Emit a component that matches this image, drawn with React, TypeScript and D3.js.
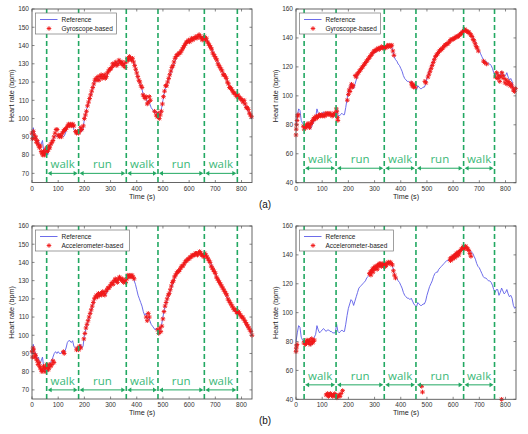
import React from 'react';
import * as d3 from 'd3';

const TIME_STEP = 5;
const X_MAX = 840;
const X_TICKS = [0, 100, 200, 300, 400, 500, 600, 700, 800];
const Y_TICKS_A = [70, 80, 90, 100, 110, 120, 130, 140, 150, 160];
const Y_TICKS_B = [40, 60, 80, 100, 120, 140, 160];
const ACTIVITIES = ['walk', 'run', 'walk', 'run', 'walk'];
const BOUNDS_A = [56, 178, 360, 481, 658, 784];
const BOUNDS_B = [31, 153, 337, 458, 640, 758];

// Reference heart rate, subject A (left panels), one value every 5 s from 0 to 840 s
const REF_A = [
  90, 95, 91, 90, 87, 88, 84, 86, 88, 82,
  80, 84, 80, 83, 85, 86, 88, 90, 91, 90,
  91, 90, 90, 91, 90, 91, 93, 96, 97, 97,
  96, 97, 94, 93, 93, 92, 94, 95, 93, 94,
  100, 103, 106, 108, 111, 113, 116, 118, 121, 122,
  123, 121, 122, 124, 123, 123, 122, 123, 125, 126,
  127, 128, 129, 130, 129, 130, 131, 132, 131, 130,
  129, 130, 131, 133, 133, 132, 133, 132, 130, 128,
  125, 122, 120, 118, 116, 113, 111, 112, 109, 110,
  108, 106, 105, 104, 103, 104, 102, 101, 103, 106,
  110, 114, 117, 119, 121, 123, 125, 127, 129, 131,
  133, 134, 135, 136, 137, 138, 139, 140, 141, 142,
  142, 143, 143, 144, 144, 145, 144, 145, 146, 145,
  144, 143, 145, 144, 143, 141, 140, 139, 137, 135,
  134, 132, 131, 129, 128, 127, 125, 124, 123, 121,
  119, 118, 117, 116, 115, 114, 113, 113, 112, 112,
  110, 110, 108, 107, 105, 104, 103, 101, 100,
];

// Reference heart rate, subject B (right panels), one value every 5 s from 0 to 840 s
const REF_B = [
  80, 86, 91, 90, 83, 81, 80, 79, 80, 81,
  79, 77, 79, 81, 83, 85, 91, 88, 86, 87,
  88, 89, 88, 87, 88, 88, 87, 87, 86, 86,
  86, 92, 87, 86, 87, 88, 87, 87, 92, 98,
  103, 106, 109, 108, 105, 108, 111, 114, 117, 118,
  119, 120, 121, 122, 124, 125, 126, 127, 128, 129,
  130, 130, 131, 132, 133, 133, 133, 134, 133, 134,
  135, 134, 135, 134, 131, 127, 125, 124, 122, 121,
  119, 117, 114, 112, 111, 110, 110, 109, 110, 108,
  106, 105, 104, 107, 106, 105, 105, 106, 106, 108,
  112, 115, 118, 120, 122, 125, 127, 128, 128, 130,
  131, 132, 133, 134, 135, 136, 136, 137, 138, 139,
  140, 140, 141, 142, 142, 143, 144, 145, 147, 146,
  145, 145, 144, 143, 142, 141, 139, 137, 134, 132,
  131, 129, 127, 125, 124, 124, 123, 122, 122, 121,
  119, 116, 114, 116, 116, 112, 114, 117, 115, 113,
  114, 116, 113, 111, 112, 110, 105, 103, 104,
];

// Gyroscope-based estimate, subject A [time s, bpm]
const GYRO_A: [number, number][] = [
  [0, 92], [2, 89], [5, 93], [8, 91], [11, 89], [14, 90], [17, 87], [20, 88], [23, 86], [26, 85],
  [29, 84], [32, 85], [35, 82], [38, 81], [41, 80], [44, 82], [47, 80], [50, 81], [53, 83], [56, 84],
  [59, 82], [62, 83], [65, 85], [68, 84], [72, 86], [76, 87], [80, 88], [84, 90], [88, 92], [92, 94],
  [96, 94], [100, 91], [104, 90], [108, 91], [112, 90], [116, 92], [120, 93], [124, 94], [128, 94], [132, 95],
  [136, 96], [140, 97], [144, 96], [148, 97], [152, 96], [156, 97], [160, 96], [166, 93], [170, 92], [174, 93],
  [178, 92], [182, 93], [186, 95], [190, 94], [196, 96], [200, 100], [204, 102], [208, 104], [212, 107], [216, 109],
  [220, 111], [224, 113], [228, 115], [232, 117], [236, 119], [240, 121], [244, 122], [248, 121], [252, 123], [256, 121],
  [260, 123], [264, 124], [268, 122], [272, 123], [276, 124], [280, 122], [284, 123], [288, 125], [292, 126], [296, 127],
  [300, 127], [304, 128], [308, 130], [312, 129], [316, 130], [320, 131], [324, 129], [328, 130], [332, 132], [336, 131],
  [340, 130], [344, 131], [348, 129], [352, 130], [356, 128], [360, 131], [364, 133], [368, 132], [372, 134], [376, 133],
  [380, 132], [384, 133], [388, 131], [392, 129], [396, 127], [400, 125], [404, 123], [408, 121], [412, 120], [416, 118],
  [420, 117], [424, 113], [428, 112], [432, 111], [436, 112], [440, 108], [444, 109], [448, 112], [452, 110], [468, 104],
  [474, 102], [478, 101], [482, 103], [486, 100], [490, 102], [494, 104], [498, 108], [502, 112], [506, 115], [510, 118],
  [514, 118], [518, 120], [522, 122], [526, 124], [530, 126], [534, 128], [538, 129], [542, 131], [546, 133], [550, 134],
  [554, 135], [558, 135], [562, 136], [566, 136], [570, 137], [574, 138], [578, 139], [582, 140], [586, 141], [590, 142],
  [594, 142], [598, 143], [602, 142], [606, 143], [610, 144], [614, 143], [618, 144], [622, 144], [626, 145], [630, 144],
  [634, 145], [638, 146], [642, 145], [646, 144], [650, 143], [654, 144], [658, 145], [662, 143], [666, 144], [670, 142],
  [674, 141], [678, 140], [682, 139], [686, 138], [690, 136], [694, 135], [698, 134], [702, 133], [706, 132], [710, 130],
  [714, 129], [718, 128], [722, 127], [726, 126], [730, 124], [734, 124], [738, 123], [742, 122], [746, 120], [750, 119],
  [754, 117], [758, 117], [762, 116], [766, 115], [770, 114], [774, 114], [778, 113], [782, 112], [786, 113], [790, 112],
  [794, 111], [798, 111], [802, 110], [806, 109], [810, 110], [814, 108], [818, 106], [822, 106], [826, 105], [830, 103],
  [834, 102], [838, 101],
];

// Accelerometer-based estimate, subject A [time s, bpm]
const ACC_A: [number, number][] = [
  [0, 91], [2, 88], [4, 93], [6, 92], [8, 90], [11, 88], [14, 89], [17, 87], [20, 86], [23, 84],
  [26, 85], [29, 83], [32, 82], [35, 81], [38, 80], [41, 81], [44, 83], [47, 82], [50, 80], [53, 82],
  [56, 84], [59, 83], [62, 81], [65, 82], [68, 84], [72, 83], [76, 84], [80, 86], [84, 85],
  [120, 91], [123, 90],
  [170, 92], [174, 93], [178, 92], [182, 94], [186, 93],
  [198, 98], [202, 101], [206, 104], [210, 106], [214, 108], [218, 110], [222, 112], [226, 114], [230, 116], [234, 118],
  [238, 120], [242, 121], [246, 122], [250, 121], [254, 123], [258, 122], [262, 123], [266, 122], [270, 124], [274, 123],
  [278, 122], [282, 124], [286, 125], [290, 126], [294, 126], [298, 127], [302, 128], [306, 129], [310, 128], [314, 130],
  [318, 131], [322, 130], [326, 129], [330, 131], [334, 132], [338, 131], [342, 130], [346, 131], [350, 129], [354, 130],
  [358, 129], [362, 131], [366, 133], [370, 132], [374, 133], [378, 132], [382, 133], [386, 132], [390, 131],
  [436, 110], [440, 108], [444, 112], [448, 110],
  [480, 103], [484, 101], [488, 104], [492, 102],
  [496, 105], [500, 109], [504, 113], [508, 116], [512, 118], [516, 120], [520, 122], [524, 123], [528, 125], [532, 127],
  [536, 129], [540, 130], [544, 132], [548, 133], [552, 134], [556, 135], [560, 135], [564, 136], [568, 137], [572, 138],
  [576, 138], [580, 139], [584, 140], [588, 141], [592, 141], [596, 142], [600, 142], [604, 143], [608, 143], [612, 144],
  [616, 144], [620, 144], [624, 145], [628, 145], [632, 144], [636, 145], [640, 146], [644, 145], [648, 144], [652, 144],
  [656, 143], [660, 145], [664, 144], [668, 143], [672, 142], [676, 141], [680, 140], [684, 138], [688, 137], [692, 136],
  [696, 135], [700, 134], [704, 132], [708, 131], [712, 130], [716, 129], [720, 128], [724, 127], [728, 126], [732, 125],
  [736, 124], [740, 123], [744, 122], [748, 120], [752, 119], [756, 118], [760, 117], [764, 116], [768, 115], [772, 114],
  [776, 114], [780, 113], [784, 112], [788, 113], [792, 112], [796, 111], [800, 110], [804, 110], [808, 109], [812, 108],
  [816, 107], [820, 106], [824, 105], [828, 104], [832, 103], [836, 102], [840, 100],
];

// Gyroscope-based estimate, subject B [time s, bpm]
const GYRO_B: [number, number][] = [
  [0, 73], [1, 77], [2, 80], [4, 83], [6, 86], [8, 87],
  [28, 79], [31, 77], [34, 79], [37, 78], [40, 80], [43, 79], [46, 81], [49, 80], [52, 78], [55, 80],
  [58, 81], [61, 82], [64, 83], [67, 84], [70, 85], [74, 84], [78, 86], [82, 85], [86, 86], [90, 87],
  [94, 86], [98, 87], [102, 86], [106, 87], [110, 86], [114, 88], [118, 87], [122, 88], [126, 87], [130, 88],
  [134, 87], [138, 86], [142, 87], [146, 88], [150, 87], [154, 91], [156, 89], [158, 85], [160, 83],
  [196, 97], [200, 101], [203, 104], [206, 103], [209, 106], [212, 108], [215, 106], [218, 107],
  [226, 114], [230, 113], [234, 115], [238, 116], [242, 117], [246, 118], [250, 119], [254, 120], [258, 121], [262, 122],
  [266, 123], [270, 124], [274, 125], [278, 126], [282, 127], [286, 128], [290, 129], [294, 130], [298, 131], [302, 131],
  [306, 132], [310, 132], [314, 133], [318, 132], [322, 133], [326, 134], [330, 133], [334, 133], [338, 134], [342, 133],
  [346, 134], [350, 135], [354, 134], [358, 135], [362, 134], [366, 135], [370, 131], [374, 128],
  [440, 109], [443, 107], [446, 108], [449, 106], [452, 107], [455, 106],
  [492, 110], [496, 109],
  [504, 113], [508, 115], [512, 117], [516, 119], [520, 121], [524, 123], [528, 125], [532, 127], [536, 128], [540, 129],
  [544, 130], [548, 131], [552, 132], [556, 132], [560, 133], [564, 134], [568, 135], [572, 135], [576, 136], [580, 136],
  [584, 137], [588, 138], [592, 139], [596, 139], [600, 139], [604, 140], [608, 140], [612, 141], [616, 141], [620, 141],
  [624, 142], [628, 143], [632, 143], [636, 144], [640, 145], [644, 146], [648, 145], [652, 145], [656, 144], [660, 144],
  [664, 143], [668, 142], [672, 141], [676, 139], [680, 138], [684, 136], [688, 134], [692, 133], [696, 131],
  [716, 124], [720, 123], [728, 122],
  [762, 113], [766, 116], [770, 112], [774, 114], [778, 110], [782, 113], [786, 116], [790, 114], [794, 112], [798, 109],
  [802, 111], [806, 108], [810, 110], [814, 109], [818, 107], [822, 108], [826, 106], [830, 104], [834, 103], [838, 105],
];

// Accelerometer-based estimate, subject B [time s, bpm]
const ACC_B: [number, number][] = [
  [0, 73], [1, 75], [2, 77], [4, 78],
  [30, 79], [33, 80], [36, 78], [39, 79], [42, 81], [45, 80], [48, 79], [51, 81], [54, 78], [57, 80],
  [60, 82], [63, 79], [66, 80], [70, 81],
  [115, 43], [120, 44], [124, 42], [128, 43], [132, 44], [136, 43], [140, 42], [144, 43], [148, 44], [152, 42],
  [156, 41], [160, 42], [164, 43], [168, 42], [172, 44], [178, 46],
  [280, 127], [284, 128], [286, 126], [288, 129], [292, 130], [294, 128], [296, 131], [300, 130], [302, 132], [304, 131],
  [308, 132], [310, 130], [312, 133], [316, 132], [318, 134], [320, 133], [324, 134], [326, 132], [328, 133], [332, 134],
  [334, 132], [336, 133], [340, 134], [342, 132], [344, 133], [348, 134], [352, 135], [356, 134], [360, 135], [364, 134],
  [368, 133], [372, 129], [376, 126], [380, 124],
  [480, 49], [483, 45],
  [588, 137], [590, 136], [592, 138], [596, 138], [598, 137], [600, 139], [604, 139], [606, 138], [608, 140], [612, 141],
  [614, 139], [616, 141], [620, 142], [622, 140], [624, 142], [628, 143], [632, 144], [636, 145], [640, 146], [642, 144],
  [644, 145], [648, 146], [652, 145], [656, 144], [660, 143], [664, 141], [668, 139],
  [785, 40],
];

const GREEN_LINE = '#22a862';
const GREEN_TEXT = '#3bb878';
const BLUE = '#5c5ce8';
const RED = '#f01818';
const AXIS = '#555';
const FONT = '"Liberation Sans", Arial, sans-serif';

function asterisk(r: number) {
  const a = r * 0.72;
  return `M${-r},0L${r},0M0,${-r}L0,${r}M${-a},${-a}L${a},${a}M${-a},${a}L${a},${-a}`;
}

type PanelProps = {
  left: number;
  top: number;
  width: number;
  height: number;
  yDomain: [number, number];
  yTicks: number[];
  refValues: number[];
  estimate: [number, number][];
  legendLabel: string;
  legendW: number;
  bounds: number[];
  arrowHr: number;
};

function Panel(p: PanelProps) {
  const x = d3.scaleLinear().domain([0, X_MAX]).range([p.left, p.left + p.width]);
  const y = d3.scaleLinear().domain(p.yDomain).range([p.top + p.height, p.top]);
  const bottom = p.top + p.height;
  const right = p.left + p.width;
  const line = d3
    .line<number>()
    .x((_, i) => x(i * TIME_STEP))
    .y((d) => y(d));
  const star = asterisk(2.3);
  const ay = y(p.arrowHr);
  const tick = 2.5;
  const lx = p.left + 3.5;
  const ly = p.top + 4;
  return (
    <g>
      {/* data */}
      <path d={line(p.refValues) || ''} fill="none" stroke={BLUE} strokeWidth={0.9} />
      <g stroke={RED} strokeWidth={0.95} fill="none">
        {p.estimate.map(([t, v], i) => (
          <path key={i} d={star} transform={`translate(${x(t)},${y(v)})`} />
        ))}
      </g>
      {/* activity annotation */}
      <g>
        {p.bounds.map((b, i) => (
          <line
            key={'b' + i}
            x1={x(b)}
            x2={x(b)}
            y1={p.top}
            y2={bottom}
            stroke={GREEN_LINE}
            strokeWidth={1.6}
            strokeDasharray="5 3"
          />
        ))}
        {ACTIVITIES.map((name, i) => {
          const x0 = x(p.bounds[i]) + 1;
          const x1 = x(p.bounds[i + 1]) - 1;
          return (
            <g key={'a' + i}>
              <line x1={x0 + 3} x2={x1 - 3} y1={ay} y2={ay} stroke={GREEN_LINE} strokeWidth={1} />
              <path d={`M${x0},${ay}L${x0 + 4},${ay - 2.3}L${x0 + 4},${ay + 2.3}Z`} fill={GREEN_LINE} />
              <path d={`M${x1},${ay}L${x1 - 4},${ay - 2.3}L${x1 - 4},${ay + 2.3}Z`} fill={GREEN_LINE} />
              <text
                x={(x0 + x1) / 2}
                y={ay - 5}
                textAnchor="middle"
                fontFamily='"Open Sans", sans-serif'
                fontSize={11.5}
                fill={GREEN_TEXT}
              >
                {name}
              </text>
            </g>
          );
        })}
      </g>
      {/* axes box and ticks */}
      <rect x={p.left} y={p.top} width={p.width} height={p.height} fill="none" stroke={AXIS} strokeWidth={0.9} />
      {X_TICKS.map((t) => (
        <g key={'xt' + t}>
          <line x1={x(t)} x2={x(t)} y1={bottom} y2={bottom - tick} stroke={AXIS} strokeWidth={0.7} />
          <line x1={x(t)} x2={x(t)} y1={p.top} y2={p.top + tick} stroke={AXIS} strokeWidth={0.7} />
          <text x={x(t)} y={bottom + 8} textAnchor="middle" fontFamily={FONT} fontSize={6.5} fill="#333">
            {t}
          </text>
        </g>
      ))}
      {p.yTicks.map((v) => (
        <g key={'yt' + v}>
          <line x1={p.left} x2={p.left + tick} y1={y(v)} y2={y(v)} stroke={AXIS} strokeWidth={0.7} />
          <line x1={right} x2={right - tick} y1={y(v)} y2={y(v)} stroke={AXIS} strokeWidth={0.7} />
          <text x={p.left - 3} y={y(v) + 2.3} textAnchor="end" fontFamily={FONT} fontSize={6.5} fill="#333">
            {v}
          </text>
        </g>
      ))}
      <text x={(p.left + right) / 2} y={bottom + 16} textAnchor="middle" fontFamily={FONT} fontSize={7.2} fill="#222">
        Time (s)
      </text>
      <text
        transform={`translate(${p.left - 18},${p.top + p.height / 2}) rotate(-90)`}
        textAnchor="middle"
        fontFamily={FONT}
        fontSize={7.2}
        fill="#222"
      >
        Heart rate (bpm)
      </text>
      {/* legend */}
      <g>
        <rect x={lx} y={ly} width={p.legendW} height={21} fill="#fff" stroke="#777" strokeWidth={0.7} />
        <line x1={lx + 4.5} x2={lx + 22} y1={ly + 6.5} y2={ly + 6.5} stroke={BLUE} strokeWidth={0.9} />
        <path d={star} transform={`translate(${lx + 13.5},${ly + 15.5})`} stroke={RED} strokeWidth={0.9} fill="none" />
        <text x={lx + 26} y={ly + 8.8} fontFamily={FONT} fontSize={6.5} fill="#222">
          Reference
        </text>
        <text x={lx + 26} y={ly + 17.8} fontFamily={FONT} fontSize={6.5} fill="#222">
          {p.legendLabel}
        </text>
      </g>
    </g>
  );
}

export default function App() {
  return (
    <svg
      width={528}
      height={434}
      viewBox="0 0 528 434"
      style={{ position: 'absolute', left: 0, top: 0, background: '#fff' }}
    >
      <rect x={0} y={0} width={528} height={434} fill="#fff" />
      <Panel
        left={32}
        top={9}
        width={220}
        height={173.5}
        yDomain={[65, 160]}
        yTicks={Y_TICKS_A}
        refValues={REF_A}
        estimate={GYRO_A}
        legendLabel="Gyroscope-based"
        legendW={81}
        bounds={BOUNDS_A}
        arrowHr={70}
      />
      <Panel
        left={296}
        top={9}
        width={220}
        height={173.7}
        yDomain={[40, 160]}
        yTicks={Y_TICKS_B}
        refValues={REF_B}
        estimate={GYRO_B}
        legendLabel="Gyroscope-based"
        legendW={81}
        bounds={BOUNDS_B}
        arrowHr={50}
      />
      <Panel
        left={32}
        top={226}
        width={220}
        height={173}
        yDomain={[65, 160]}
        yTicks={Y_TICKS_A}
        refValues={REF_A}
        estimate={ACC_A}
        legendLabel="Accelerometer-based"
        legendW={94}
        bounds={BOUNDS_A}
        arrowHr={70}
      />
      <Panel
        left={296}
        top={226}
        width={220}
        height={173.3}
        yDomain={[40, 160]}
        yTicks={Y_TICKS_B}
        refValues={REF_B}
        estimate={ACC_B}
        legendLabel="Accelerometer-based"
        legendW={94}
        bounds={BOUNDS_B}
        arrowHr={50}
      />
      <text x={265} y={208} textAnchor="middle" fontFamily={FONT} fontSize={10} fill="#111">
        (a)
      </text>
      <text x={265} y={424} textAnchor="middle" fontFamily={FONT} fontSize={10} fill="#111">
        (b)
      </text>
    </svg>
  );
}
